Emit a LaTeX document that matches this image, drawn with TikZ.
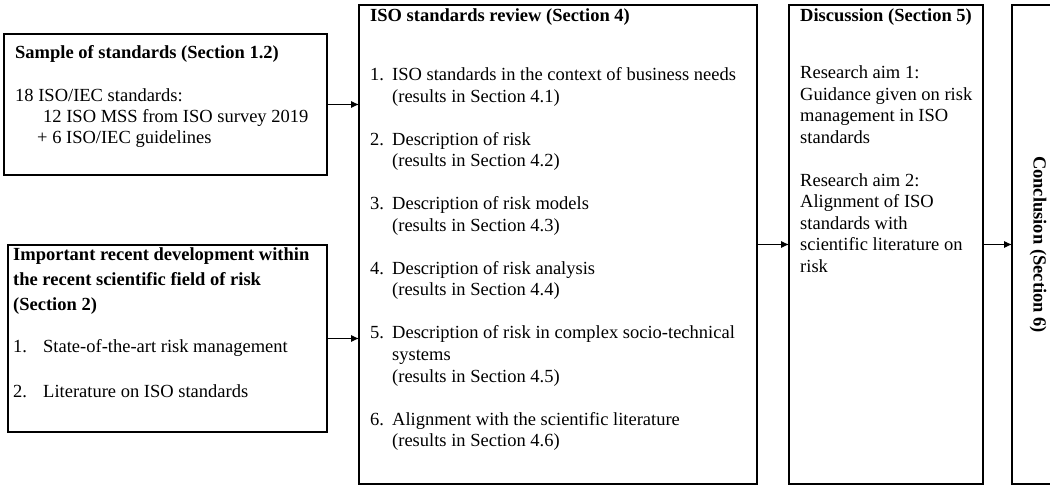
\documentclass[tikz,border=0pt]{standalone}
\usepackage{fontspec}
\setmainfont{Liberation Serif}
\usetikzlibrary{arrows.meta}

\begin{document}
\begin{tikzpicture}[x=1pt,y=-1pt,
  frame/.style={draw=black, line width=1.7pt, inner sep=0pt, outer sep=0pt},
  txt/.style={anchor=base west, inner sep=0pt, font=\fontsize{18.5}{21.5}\selectfont},
  ttl/.style={txt, font=\fontsize{18.5}{21.5}\selectfont\bfseries},
  link/.style={-{Latex[length=8pt,width=7pt]}, line width=0.9pt},
]
\useasboundingbox (0,0) rectangle (1050,486);

% frames
\node[frame, minimum width=323pt, minimum height=141pt] (sample) at (165.5,104.5) {};
\node[frame, minimum width=319pt, minimum height=187pt] (devel) at (167.5,338.5) {};
\node[frame, minimum width=398pt, minimum height=479pt] (review) at (558,244.5) {};
\node[frame, minimum width=194pt, minimum height=479pt] (disc) at (886,244.5) {};
\node[frame, minimum width=52pt, minimum height=479pt] (concl) at (1038,244.5) {};

% sample of standards
\node[ttl] (s0) at (15,59) {Sample of standards (Section 1.2)};
\node[txt] (s1) at (15,102) {18 ISO/IEC standards:};
\node[txt] (s2) at (43,123) {12 ISO MSS from ISO survey 2019};
\node[txt] (s3) at (37,144) {+ 6 ISO/IEC guidelines};

% recent development
\node[ttl] (d0) at (13,261) {Important recent development within};
\node[ttl] (d1) at (13,286) {the recent scientific field of risk};
\node[ttl] (d2) at (13,311) {(Section 2)};
\node[txt] (d3n) at (13,353) {1.};
\node[txt] (d3) at (43,353) {State-of-the-art risk management};
\node[txt] (d4n) at (13,398) {2.};
\node[txt] (d4) at (43,398) {Literature on ISO standards};

% ISO standards review
\node[ttl] (r0) at (370,22) {ISO standards review (Section 4)};
\node[txt] (r1n) at (370,81) {1.};
\node[txt] (r1) at (392,81) {ISO standards in the context of business needs};
\node[txt] (r1b) at (392,102.5) {(results in Section 4.1)};
\node[txt] (r2n) at (370,145.5) {2.};
\node[txt] (r2) at (392,145.5) {Description of risk};
\node[txt] (r2b) at (392,167) {(results in Section 4.2)};
\node[txt] (r3n) at (370,210) {3.};
\node[txt] (r3) at (392,210) {Description of risk models};
\node[txt] (r3b) at (392,231.5) {(results in Section 4.3)};
\node[txt] (r4n) at (370,274.5) {4.};
\node[txt] (r4) at (392,274.5) {Description of risk analysis};
\node[txt] (r4b) at (392,296) {(results in Section 4.4)};
\node[txt] (r5n) at (370,339) {5.};
\node[txt] (r5) at (392,339) {Description of risk in complex socio-technical};
\node[txt] (r5b) at (392,360.5) {systems};
\node[txt] (r5c) at (392,382) {(results in Section 4.5)};
\node[txt] (r6n) at (370,425) {6.};
\node[txt] (r6) at (392,425) {Alignment with the scientific literature};
\node[txt] (r6b) at (392,446.5) {(results in Section 4.6)};

% discussion
\node[ttl] (c0) at (800,22) {Discussion (Section 5)};
\node[txt] (c1) at (800,79) {Research aim 1:};
\node[txt] (c2) at (800,100.5) {Guidance given on risk};
\node[txt] (c3) at (800,122) {management in ISO};
\node[txt] (c4) at (800,143.5) {standards};
\node[txt] (c5) at (800,186.5) {Research aim 2:};
\node[txt] (c6) at (800,208) {Alignment of ISO};
\node[txt] (c7) at (800,229.5) {standards with};
\node[txt] (c8) at (800,251) {scientific literature on};
\node[txt] (c9) at (800,272.5) {risk};

% conclusion
\node[rotate=-90, inner sep=0pt, font=\fontsize{18.5}{21.5}\selectfont\bfseries] (ct) at (concl.center) {Conclusion (Section 6)};

% connectors
\draw[link] (sample.east) -- (sample.east -| review.west);
\draw[link] (devel.east) -- (devel.east -| review.west);
\draw[link] (review.east) -- (disc.west);
\draw[link] (disc.east) -- (concl.west);
\end{tikzpicture}
\end{document}
